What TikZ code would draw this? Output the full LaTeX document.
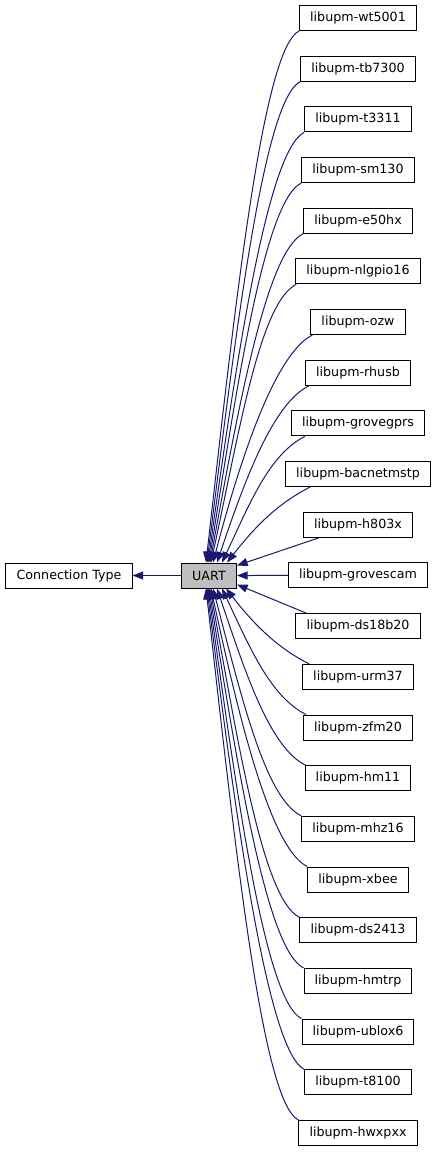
\documentclass[tikz,border=0pt]{standalone}
\usepackage{fontspec}
\setmainfont{DejaVu Sans}
\usetikzlibrary{arrows.meta,calc}
\definecolor{edgeblue}{RGB}{25,25,112}
\definecolor{nodegray}{RGB}{191,191,191}
\tikzset{
  classbox/.style={draw=black, fill=white, line width=0.75pt, minimum height=18.75pt, inner xsep=8pt, inner ysep=0pt, font=\fontsize{9.5}{11}\selectfont},
  inherit/.style={draw=edgeblue, line width=0.75pt, -{Triangle[length=8pt,width=6pt,fill=edgeblue]}}
}
\begin{document}
\begin{tikzpicture}[x=0.75pt, y=-0.75pt]
  \useasboundingbox (0,0) rectangle (437,1152);
  % base class and UART
  \node[classbox] (conn) at (69,575.5) {Connection Type};
  \node[classbox, fill=nodegray] (uart) at (209,575.5) {UART};
  \draw[inherit] (uart) -- (conn);
  % derived libraries
  \foreach \lib [count=\i from 0] in {wt5001,tb7300,t3311,sm130,e50hx,nlgpio16,ozw,rhusb,grovegprs,bacnetmstp,h803x,grovescam,ds18b20,urm37,zfm20,hm11,mhz16,xbee,ds2413,hmtrp,ublox6,t8100,hwxpxx}
    \node[classbox] (\lib) at (358,{18+50.68*\i}) {libupm-\lib};
  % curved edges into the top of UART
  \foreach \lib/\i/\s/\dx in {wt5001/0/0/-3,tb7300/1/0/-2,t3311/2/0/-1,sm130/3/0/0,e50hx/4/0/1,nlgpio16/5/1/2,ozw/6/2/4,rhusb/7/4/8,grovegprs/8/14/13,bacnetmstp/9/25/18}{
    \pgfmathsetmacro\dy{532.5-50.68*\i}
    \pgfmathsetmacro\th{atan(1.5*\dy/90)}
    \pgfmathsetmacro\cx{0.5*\dy*cos(\th)}
    \pgfmathsetmacro\cy{0.5*\dy*sin(\th)}
    \draw[inherit] ($(\lib.south west)+(\s,0)$) .. controls +(-36,18) and +(\cx,-\cy) .. ($(uart.north)+(\dx,0)$);
  }
  % curved edges into the bottom of UART
  \foreach \lib/\i/\s/\dx in {urm37/13/7/17,zfm20/14/3/13,hm11/15/1/8,mhz16/16/0/4,xbee/17/0/2,ds2413/18/0/1,hmtrp/19/0/0,ublox6/20/0/-1,t8100/21/0/-2,hwxpxx/22/0/-3}{
    \pgfmathsetmacro\dy{50.68*\i-582.5}
    \pgfmathsetmacro\th{atan(1.5*\dy/90)}
    \pgfmathsetmacro\cx{0.5*\dy*cos(\th)}
    \pgfmathsetmacro\cy{0.5*\dy*sin(\th)}
    \draw[inherit] ($(\lib.north west)+(\s,0)$) .. controls +(-36,-18) and +(\cx,\cy) .. ($(uart.south)+(\dx,0)$);
  }
  % straight edges
  \draw[inherit] ($(h803x.south west)+(16,0)$) -- ($(uart.north east)+(0,3)$);
  \draw[inherit] (grovescam.west) -- (uart.east);
  \draw[inherit] ($(ds18b20.north west)+(11,0)$) -- ($(uart.south east)+(0,-4)$);
\end{tikzpicture}
\end{document}
